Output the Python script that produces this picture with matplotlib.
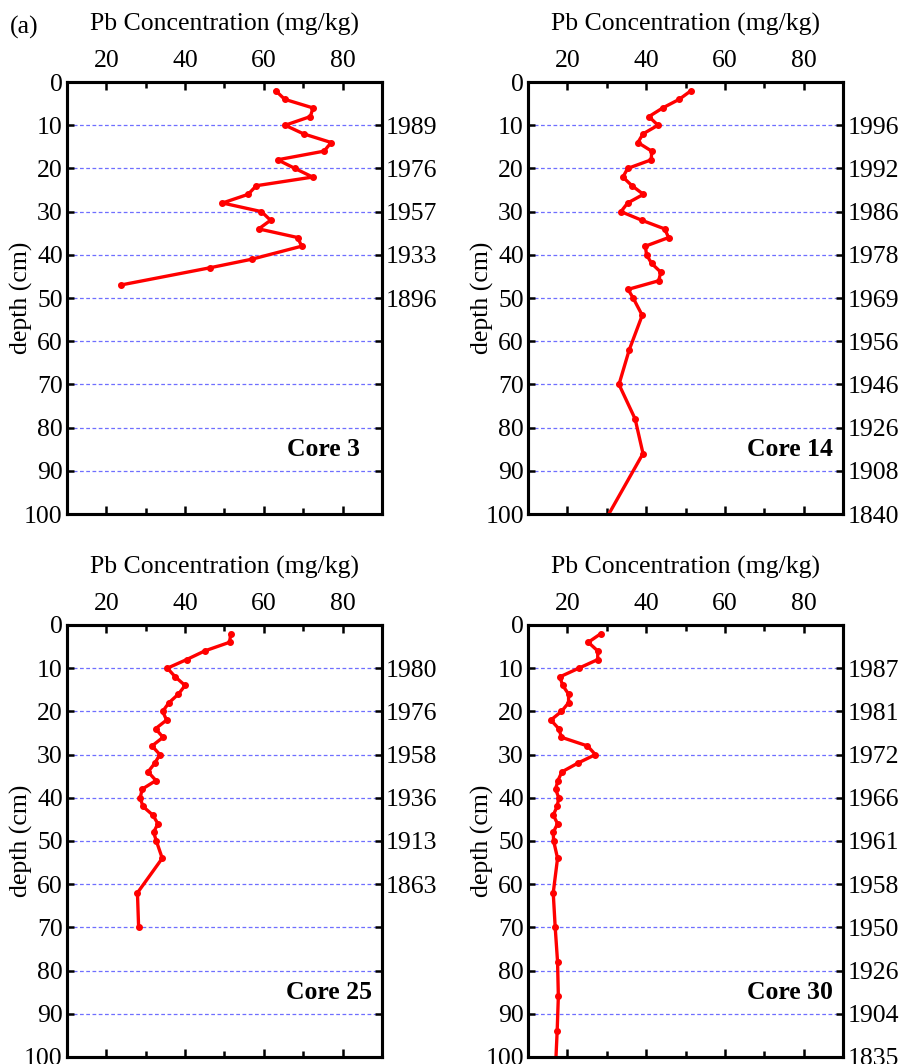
import matplotlib.pyplot as plt
from matplotlib.ticker import MultipleLocator

plt.rcParams['font.family'] = ['Liberation Serif', 'DejaVu Serif']
plt.rcParams['font.size'] = 18.5

# depth (cm) and Pb (mg/kg) for each core
core3_depth = [2, 4, 6, 8, 10, 12, 14, 16, 18, 20, 22, 24, 26, 28, 30, 32, 34, 36, 38, 41, 43, 47]
core3_pb = [63.0, 65.3, 72.5, 71.8, 65.4, 70.1, 77.1, 75.3, 63.5, 67.9, 72.4, 58.1, 56.0, 49.5,
            59.4, 61.7, 58.7, 68.6, 69.6, 57.0, 46.3, 23.6]

core14_depth = [2, 4, 6, 8, 10, 12, 14, 16, 18, 20, 22, 24, 26, 28, 30, 32, 34, 36, 38, 40, 42, 44,
                46, 48, 50, 54, 62, 70, 78, 86, 106]
core14_pb = [51.4, 48.4, 44.2, 40.7, 43.0, 39.2, 37.9, 41.4, 41.3, 35.3, 34.1, 36.4, 39.3, 35.3,
             33.6, 38.9, 44.7, 45.7, 39.8, 40.1, 41.4, 43.7, 43.2, 35.4, 36.7, 39.0, 35.7, 33.1,
             37.2, 39.2, 26.8]

core25_depth = [2, 4, 6, 8, 10, 12, 14, 16, 18, 20, 22, 24, 26, 28, 30, 32, 34, 36, 38, 40, 42, 44,
                46, 48, 50, 54, 62, 70]
core25_pb = [51.6, 51.3, 45.0, 40.4, 35.5, 37.5, 40.0, 38.3, 35.9, 34.3, 35.3, 32.5, 34.4, 31.6,
             33.6, 32.3, 30.6, 32.6, 29.1, 28.6, 29.3, 31.8, 33.1, 32.0, 32.7, 34.2, 27.9, 28.2]

core30_depth = [2, 4, 6, 8, 10, 12, 14, 16, 18, 20, 22, 24, 26, 28, 30, 32, 34, 36, 38, 40, 42, 44,
                46, 48, 50, 54, 62, 70, 78, 86, 94, 106]
core30_pb = [28.5, 25.3, 27.7, 27.7, 22.9, 18.1, 18.8, 20.3, 20.3, 18.5, 15.8, 17.8, 18.5, 25.1,
             27.1, 22.6, 18.6, 17.6, 17.0, 17.8, 17.4, 16.4, 17.5, 16.4, 16.5, 17.5, 16.4, 16.9,
             17.5, 17.7, 17.4, 16.8]

# dates on the right axis, one per 10 cm starting at 10 cm
dates3 = ['1989', '1976', '1957', '1933', '1896']
dates14 = ['1996', '1992', '1986', '1978', '1969', '1956', '1946', '1926', '1908', '1840']
dates25 = ['1980', '1976', '1958', '1936', '1913', '1863']
dates30 = ['1987', '1981', '1972', '1966', '1961', '1958', '1950', '1926', '1904', '1835']

depth_ticks = list(range(0, 101, 10))

fig = plt.figure(figsize=(9, 10.64), dpi=100)

panels = [
    (core3_depth, core3_pb, dates3, 'Core 3', [0.0744, 0.5169, 0.35, 0.406], 0.930),
    (core14_depth, core14_pb, dates14, 'Core 14', [0.5867, 0.5169, 0.35, 0.406], 0.968),
    (core25_depth, core25_pb, dates25, 'Core 25', [0.0744, 0.0066, 0.35, 0.406], 0.968),
    (core30_depth, core30_pb, dates30, 'Core 30', [0.5867, 0.0066, 0.35, 0.406], 0.968),
]

for depth, pb, dates, name, pos, xt in panels:
    ax = fig.add_axes(pos)
    for y in depth_ticks[1:-1]:
        ax.axhline(y, color='#6f6fff', lw=0.9, ls=(0, (3, 2)), zorder=1)
    ax.plot(pb, depth, color='red', lw=2.4, marker='o', ms=4, zorder=3)
    ax.set_xlim(10, 90)
    ax.set_ylim(100, 0)
    ax.xaxis.tick_top()
    ax.xaxis.set_label_position('top')
    ax.set_xticks([20, 40, 60, 80])
    ax.xaxis.set_minor_locator(MultipleLocator(10))
    ax.set_yticks(depth_ticks)
    ax.tick_params(axis='x', which='both', direction='in', top=True, bottom=True,
                   width=1.8, pad=7)
    ax.tick_params(axis='x', which='major', length=6)
    ax.tick_params(axis='x', which='minor', length=4)
    ax.tick_params(axis='y', direction='in', length=5, width=1.8, pad=3)
    ax.set_xlabel('Pb Concentration (mg/kg)', labelpad=14)
    ax.set_ylabel('depth (cm)', labelpad=-6.5)
    for s in ax.spines.values():
        s.set_linewidth(2.2)
    ax.text(xt, 85, name, transform=ax.get_yaxis_transform(), ha='right', va='center',
            fontweight='bold')

    ax2 = ax.twinx()
    ax2.set_ylim(100, 0)
    ax2.set_yticks(depth_ticks)
    ax2.set_yticklabels([''] + dates + [''] * (10 - len(dates)))
    ax2.tick_params(axis='y', direction='in', length=5, width=1.8, pad=3)
    for s in ax2.spines.values():
        s.set_linewidth(2.2)

fig.text(0.011, 1 - 27 / 1064, '(a)', ha='left', va='center')

fig.savefig('out.png', dpi=100)
